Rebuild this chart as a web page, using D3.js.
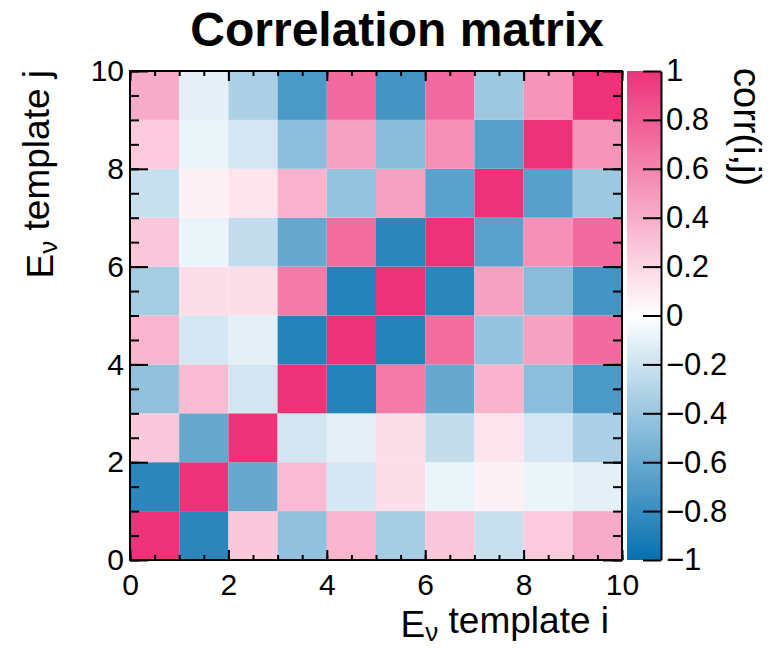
<!DOCTYPE html>
<html>
<head>
<meta charset="utf-8">
<script src="https://cdn.jsdelivr.net/npm/d3@7"></script>
<style>
body { margin: 0; background: #fff; }
svg text { font-family: "Liberation Sans", Arial, Helvetica, sans-serif; fill: #000; }
.axis path, .axis line { stroke: #000; stroke-width: 2; }
</style>
</head>
<body>
<svg id="chart" width="773" height="648"></svg>
<script>
// template bins (i along x, j along y)
var bins = [0, 1, 2, 3, 4, 5, 6, 7, 8, 9];

// correlation rows, j = 0 (bottom) .. 9 (top)
var row0 = [ 1.00, -0.85,  0.27, -0.44,  0.36, -0.36,  0.28, -0.22,  0.26,  0.41];
var row1 = [-0.85,  1.00, -0.61,  0.33, -0.17,  0.16, -0.08,  0.07, -0.08, -0.11];
var row2 = [ 0.27, -0.61,  1.00, -0.18, -0.11,  0.16, -0.24,  0.13, -0.17, -0.33];
var row3 = [-0.44,  0.33, -0.18,  1.00, -0.87,  0.65, -0.61,  0.37, -0.46, -0.72];
var row4 = [ 0.36, -0.17, -0.11, -0.87,  1.00, -0.87,  0.71, -0.42,  0.46,  0.72];
var row5 = [-0.36,  0.16,  0.16,  0.65, -0.87,  1.00, -0.85,  0.46, -0.47, -0.75];
var row6 = [ 0.28, -0.08, -0.24, -0.61,  0.71, -0.85,  1.00, -0.66,  0.54,  0.72];
var row7 = [-0.22,  0.07,  0.13,  0.37, -0.42,  0.46, -0.66,  1.00, -0.67, -0.39];
var row8 = [ 0.26, -0.08, -0.17, -0.46,  0.46, -0.47,  0.54, -0.67,  1.00,  0.52];
var row9 = [ 0.41, -0.11, -0.33, -0.72,  0.72, -0.75,  0.72, -0.39,  0.52,  1.00];
var rows = [row0, row1, row2, row3, row4, row5, row6, row7, row8, row9];

var axisTicks = [0, 2, 4, 6, 8, 10];
var zTicks = [-10, -8, -6, -4, -2, 0, 2, 4, 6, 8, 10].map(function (v) { return v / 10; });

var svg = d3.select("#chart");
var padL = 130, padR = 622, padT = 71, padB = 560;
var barLeft = 627, barRight = 661;

var x = d3.scaleLinear().domain([0, 10]).range([padL, padR]);
var y = d3.scaleLinear().domain([0, 10]).range([padB, padT]);
var color = d3.scaleLinear().domain([-1, 0, 1]).range(["#0571b0", "#ffffff", "#ee3278"]);
var z = d3.scaleLinear().domain([-1, 1]).range([padB, padT]);

// cells
var cells = [];
rows.forEach(function (r, j) {
    bins.forEach(function (i) { cells.push({i: i, j: j, v: r[i]}); });
});
svg.append("g").selectAll("rect")
    .data(cells)
    .enter().append("rect")
    .attr("x", function (d) { return x(d.i); })
    .attr("y", function (d) { return y(d.j + 1); })
    .attr("width", function (d) { return x(d.i + 1) - x(d.i); })
    .attr("height", function (d) { return y(d.j) - y(d.j + 1); })
    .attr("fill", function (d) { return color(d.v); });

// ticks: major every 2, minor every 0.5, all pointing inward
var minor = d3.range(0, 21).map(function (k) { return k / 2; });
function addAxis(axis, tx, ty, labels) {
    var g = svg.append("g").attr("class", "axis")
        .attr("transform", "translate(" + tx + "," + ty + ")")
        .call(axis);
    g.select(".domain").remove();
    if (!labels) g.selectAll("text").remove();
    return g;
}
addAxis(d3.axisBottom(x).tickValues(minor).tickSizeInner(-5).tickSizeOuter(0), 0, padB, false);
addAxis(d3.axisTop(x).tickValues(minor).tickSizeInner(-5).tickSizeOuter(0), 0, padT, false);
addAxis(d3.axisLeft(y).tickValues(minor).tickSizeInner(-9).tickSizeOuter(0), padL, 0, false);
addAxis(d3.axisRight(y).tickValues(minor).tickSizeInner(-9).tickSizeOuter(0), padR, 0, false);
addAxis(d3.axisTop(x).tickValues(axisTicks).tickSizeInner(-10).tickSizeOuter(0), 0, padT, false);
addAxis(d3.axisRight(y).tickValues(axisTicks).tickSizeInner(-19).tickSizeOuter(0), padR, 0, false);

var xg = addAxis(d3.axisBottom(x).tickValues(axisTicks).tickSizeInner(-10).tickSizeOuter(0).tickPadding(14), 0, padB, true);
xg.selectAll("text").style("font-size", "30px");
var yg = addAxis(d3.axisLeft(y).tickValues(axisTicks).tickSizeInner(-18).tickSizeOuter(0).tickPadding(6), padL, 0, true);
yg.selectAll("text").style("font-size", "30px");

// frame
svg.append("rect")
    .attr("x", padL).attr("y", padT)
    .attr("width", padR - padL).attr("height", padB - padT)
    .attr("fill", "none").attr("stroke", "#000").attr("stroke-width", 2);

// colour bar
var grad = svg.append("defs").append("linearGradient")
    .attr("id", "zgrad").attr("x1", 0).attr("y1", 1).attr("x2", 0).attr("y2", 0);
grad.selectAll("stop")
    .data(d3.range(0, 21).map(function (k) { return -1 + k / 10; }))
    .enter().append("stop")
    .attr("offset", function (d) { return (d + 1) / 2; })
    .attr("stop-color", function (d) { return color(d); });
svg.append("rect")
    .attr("x", barLeft).attr("y", padT)
    .attr("width", barRight - barLeft).attr("height", padB - padT)
    .attr("fill", "url(#zgrad)");
var zg = svg.append("g").attr("class", "axis")
    .attr("transform", "translate(" + barRight + ",0)")
    .call(d3.axisRight(z).tickValues(zTicks).tickSizeInner(-18).tickSizeOuter(0).tickPadding(5)
        .tickFormat(function (d) { return d === 0 ? "0" : d3.format("~g")(d); }));
zg.selectAll("text").style("font-size", "31px");

// titles
svg.append("text")
    .attr("x", 397).attr("y", 46)
    .attr("text-anchor", "middle")
    .style("font-size", "48px").style("font-weight", "bold")
    .text("Correlation matrix");

function axisTitle(t, letter) {
    t.append("tspan").text("E");
    t.append("tspan").attr("dy", "0.14em").style("font-size", "26px").text("\u03bd");
    t.append("tspan").attr("dy", "-0.2em").text(" template " + letter);
}
var xt = svg.append("text")
    .attr("x", 609).attr("y", 637)
    .attr("text-anchor", "end")
    .style("font-size", "37px");
axisTitle(xt, "i");
var yt = svg.append("text")
    .attr("transform", "translate(53,70) rotate(-90)")
    .attr("text-anchor", "end")
    .style("font-size", "37px");
axisTitle(yt, "j");

svg.append("text")
    .attr("transform", "translate(734,68) rotate(90)")
    .attr("text-anchor", "start")
    .style("font-size", "38px")
    .text("corr(i,j)");
</script>
</body>
</html>
